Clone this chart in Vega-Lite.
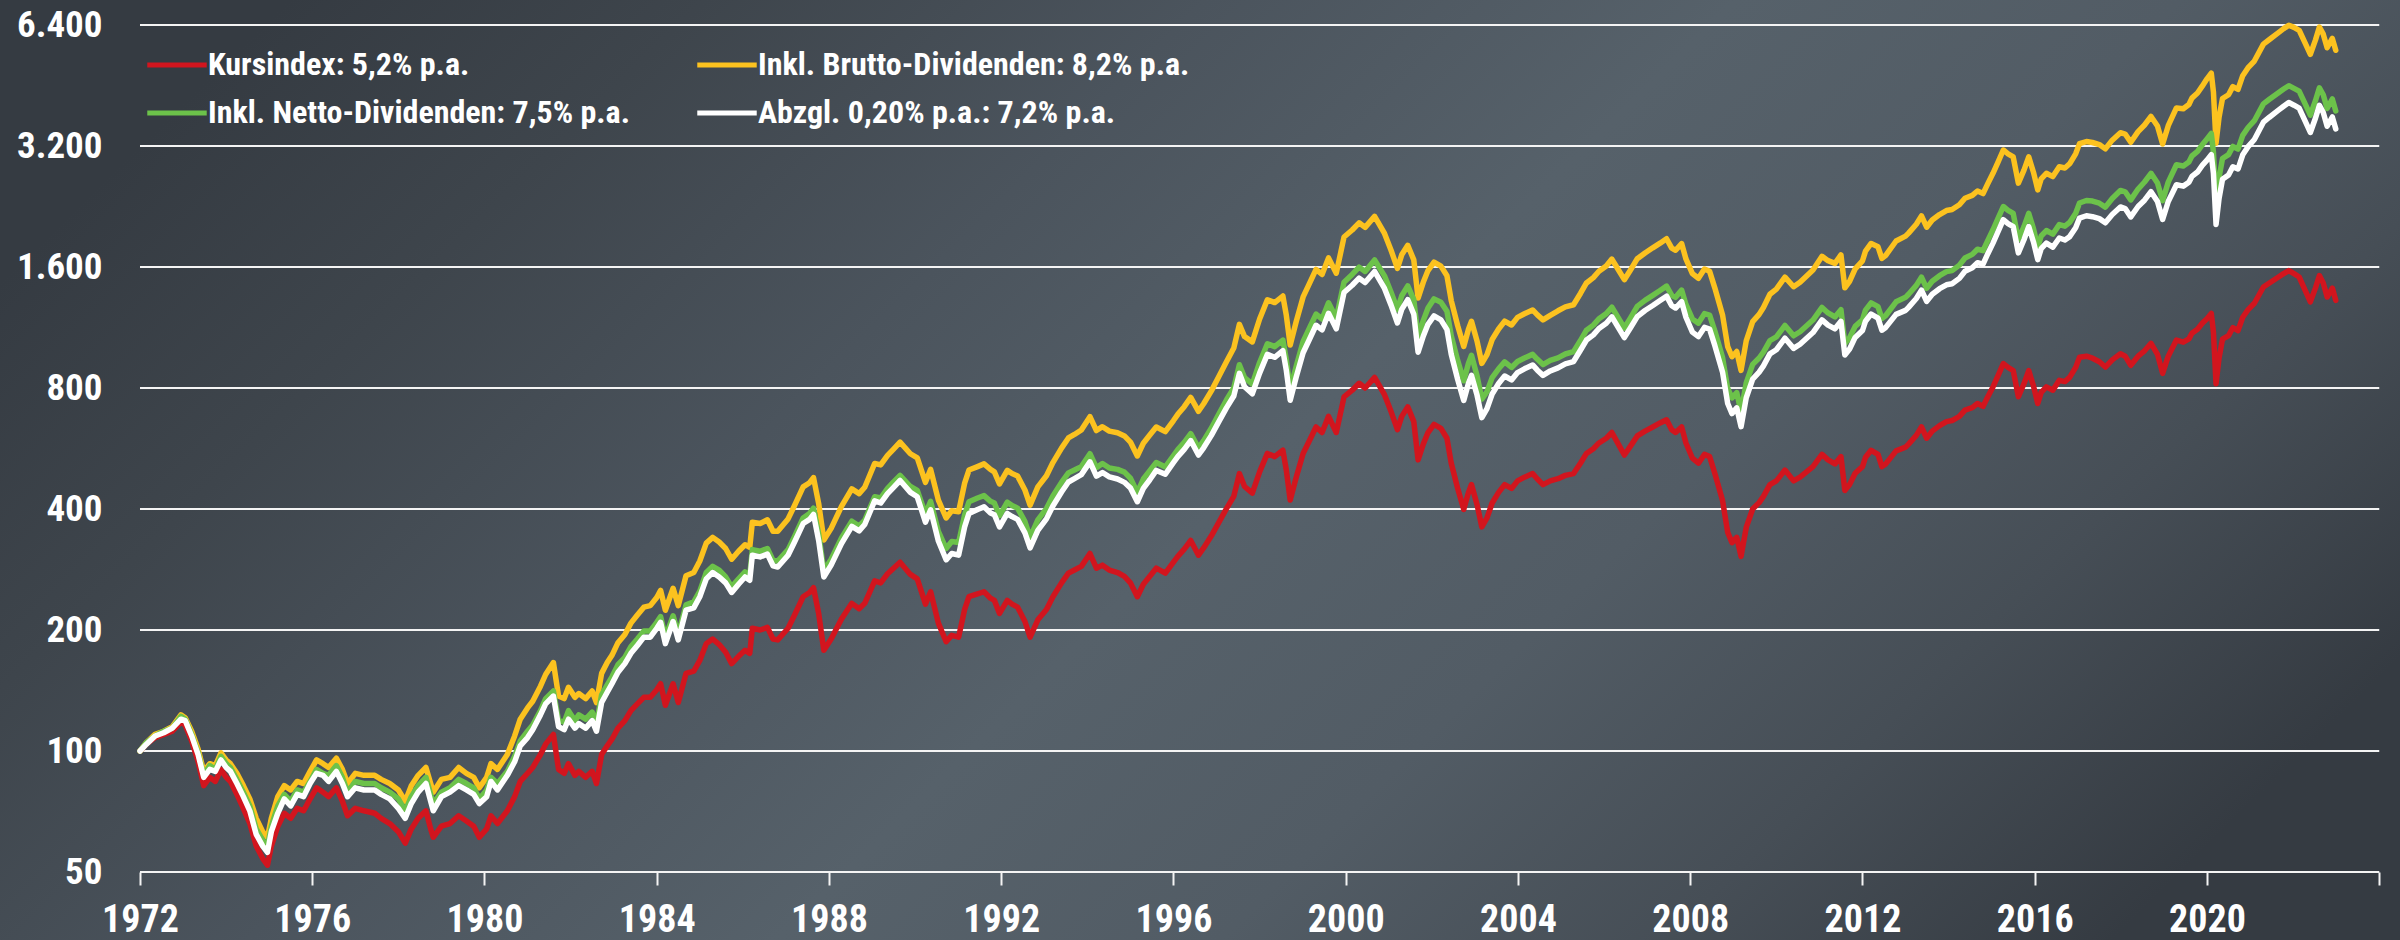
{
"$schema":"https://vega.github.io/schema/vega-lite/v6.json",
"width":2400,"height":940,
"autosize":{"type":"none"},
"padding":0,
"background":"#3f464d",
"view":{"stroke":null,"fill":{"gradient":"linear","x1":0,"y1":0.3,"x2":1,"y2":0.7,"stops":[{"offset":0,"color":"#353b42"},{"offset":0.15,"color":"#3e454c"},{"offset":0.33,"color":"#4b545d"},{"offset":0.52,"color":"#56616a"},{"offset":0.68,"color":"#525c65"},{"offset":0.84,"color":"#464e56"},{"offset":1,"color":"#353b42"}]}},
"config":{"font":"Roboto Condensed, Liberation Sans"},
"datasets":{
"grid":[{"g":50},{"g":100},{"g":200},{"g":400},{"g":800},{"g":1600},{"g":3200},{"g":6400}],
"series":[
{"t":1972.00,"k":100,"b":100,"n":100,"a":100},
{"t":1972.15,"k":104,"b":105,"n":105,"a":104},
{"t":1972.35,"k":108,"b":110,"n":109,"a":109},
{"t":1972.55,"k":110,"b":112,"n":112,"a":111},
{"t":1972.75,"k":112,"b":115,"n":114,"a":114},
{"t":1972.95,"k":118,"b":123,"n":122,"a":120},
{"t":1973.05,"k":116,"b":121,"n":120,"a":119},
{"t":1973.20,"k":106,"b":112,"n":110,"a":109},
{"t":1973.35,"k":94,"b":101,"n":99,"a":98},
{"t":1973.48,"k":82,"b":89,"n":87,"a":86},
{"t":1973.62,"k":86,"b":93,"n":92,"a":90},
{"t":1973.75,"k":84,"b":92,"n":90,"a":89},
{"t":1973.88,"k":90,"b":99,"n":97,"a":95},
{"t":1974.00,"k":86,"b":95,"n":93,"a":91},
{"t":1974.10,"k":84,"b":93,"n":91,"a":89},
{"t":1974.25,"k":78,"b":88,"n":85,"a":83},
{"t":1974.40,"k":72,"b":82,"n":79,"a":77},
{"t":1974.55,"k":66,"b":76,"n":73,"a":71},
{"t":1974.70,"k":58,"b":68,"n":64,"a":62},
{"t":1974.85,"k":54,"b":63,"n":60,"a":58},
{"t":1974.96,"k":52,"b":61,"n":58,"a":56},
{"t":1975.05,"k":58,"b":68,"n":65,"a":63},
{"t":1975.20,"k":65,"b":77,"n":73,"a":70},
{"t":1975.35,"k":70,"b":82,"n":78,"a":76},
{"t":1975.50,"k":68,"b":80,"n":75,"a":73},
{"t":1975.65,"k":72,"b":84,"n":80,"a":78},
{"t":1975.80,"k":71,"b":83,"n":79,"a":77},
{"t":1975.95,"k":76,"b":89,"n":84,"a":83},
{"t":1976.10,"k":81,"b":95,"n":90,"a":88},
{"t":1976.25,"k":79,"b":93,"n":88,"a":87},
{"t":1976.38,"k":77,"b":91,"n":87,"a":84},
{"t":1976.56,"k":81,"b":96,"n":92,"a":89},
{"t":1976.70,"k":75,"b":90,"n":86,"a":83},
{"t":1976.82,"k":69,"b":83,"n":79,"a":77},
{"t":1977.00,"k":72,"b":88,"n":84,"a":81},
{"t":1977.20,"k":71,"b":87,"n":83,"a":80},
{"t":1977.45,"k":70,"b":87,"n":83,"a":80},
{"t":1977.60,"k":68,"b":85,"n":81,"a":78},
{"t":1977.80,"k":66,"b":83,"n":79,"a":76},
{"t":1978.00,"k":63,"b":80,"n":76,"a":72},
{"t":1978.16,"k":59,"b":75,"n":71,"a":68},
{"t":1978.30,"k":64,"b":82,"n":77,"a":74},
{"t":1978.46,"k":68,"b":87,"n":82,"a":79},
{"t":1978.64,"k":71,"b":91,"n":86,"a":83},
{"t":1978.75,"k":64,"b":83,"n":78,"a":75},
{"t":1978.81,"k":61,"b":79,"n":74,"a":71},
{"t":1979.00,"k":65,"b":85,"n":79,"a":77},
{"t":1979.20,"k":66,"b":86,"n":81,"a":79},
{"t":1979.40,"k":69,"b":91,"n":85,"a":82},
{"t":1979.58,"k":67,"b":88,"n":83,"a":80},
{"t":1979.75,"k":65,"b":86,"n":81,"a":78},
{"t":1979.88,"k":61,"b":81,"n":76,"a":74},
{"t":1980.05,"k":64,"b":86,"n":80,"a":77},
{"t":1980.15,"k":69,"b":93,"n":86,"a":84},
{"t":1980.30,"k":66,"b":90,"n":83,"a":80},
{"t":1980.53,"k":71,"b":98,"n":89,"a":87},
{"t":1980.70,"k":77,"b":109,"n":97,"a":94},
{"t":1980.83,"k":84,"b":120,"n":106,"a":103},
{"t":1981.00,"k":88,"b":128,"n":112,"a":108},
{"t":1981.12,"k":91,"b":133,"n":116,"a":113},
{"t":1981.30,"k":98,"b":145,"n":126,"a":123},
{"t":1981.42,"k":104,"b":155,"n":135,"a":131},
{"t":1981.60,"k":110,"b":166,"n":141,"a":137},
{"t":1981.72,"k":90,"b":137,"n":119,"a":115},
{"t":1981.85,"k":88,"b":135,"n":118,"a":113},
{"t":1981.95,"k":93,"b":144,"n":126,"a":120},
{"t":1982.10,"k":87,"b":136,"n":119,"a":114},
{"t":1982.19,"k":89,"b":139,"n":123,"a":117},
{"t":1982.35,"k":86,"b":135,"n":120,"a":114},
{"t":1982.50,"k":89,"b":141,"n":125,"a":119},
{"t":1982.60,"k":83,"b":132,"n":117,"a":112},
{"t":1982.72,"k":98,"b":156,"n":138,"a":132},
{"t":1982.85,"k":103,"b":166,"n":146,"a":140},
{"t":1982.96,"k":107,"b":173,"n":153,"a":147},
{"t":1983.10,"k":114,"b":186,"n":164,"a":157},
{"t":1983.26,"k":119,"b":195,"n":171,"a":165},
{"t":1983.40,"k":126,"b":208,"n":182,"a":175},
{"t":1983.55,"k":131,"b":218,"n":190,"a":183},
{"t":1983.70,"k":136,"b":228,"n":199,"a":192},
{"t":1983.85,"k":136,"b":230,"n":199,"a":192},
{"t":1984.00,"k":142,"b":241,"n":209,"a":202},
{"t":1984.09,"k":147,"b":251,"n":216,"a":209},
{"t":1984.20,"k":130,"b":224,"n":192,"a":185},
{"t":1984.38,"k":147,"b":254,"n":217,"a":210},
{"t":1984.50,"k":132,"b":230,"n":195,"a":189},
{"t":1984.68,"k":156,"b":273,"n":231,"a":224},
{"t":1984.86,"k":158,"b":278,"n":235,"a":227},
{"t":1985.00,"k":168,"b":297,"n":250,"a":242},
{"t":1985.15,"k":185,"b":329,"n":278,"a":268},
{"t":1985.30,"k":190,"b":340,"n":288,"a":278},
{"t":1985.45,"k":184,"b":331,"n":282,"a":271},
{"t":1985.60,"k":176,"b":319,"n":271,"a":262},
{"t":1985.74,"k":165,"b":300,"n":256,"a":248},
{"t":1985.90,"k":172,"b":314,"n":268,"a":260},
{"t":1986.05,"k":178,"b":326,"n":279,"a":271},
{"t":1986.16,"k":175,"b":321,"n":275,"a":266},
{"t":1986.22,"k":202,"b":371,"n":317,"a":307},
{"t":1986.40,"k":200,"b":368,"n":314,"a":304},
{"t":1986.57,"k":203,"b":376,"n":319,"a":309},
{"t":1986.70,"k":190,"b":352,"n":298,"a":289},
{"t":1986.81,"k":189,"b":352,"n":297,"a":287},
{"t":1987.05,"k":202,"b":378,"n":317,"a":307},
{"t":1987.20,"k":218,"b":408,"n":342,"a":331},
{"t":1987.40,"k":242,"b":454,"n":380,"a":368},
{"t":1987.55,"k":248,"b":465,"n":390,"a":377},
{"t":1987.64,"k":255,"b":479,"n":402,"a":388},
{"t":1987.76,"k":220,"b":413,"n":347,"a":334},
{"t":1987.88,"k":178,"b":335,"n":281,"a":271},
{"t":1988.05,"k":190,"b":358,"n":300,"a":290},
{"t":1988.29,"k":213,"b":406,"n":339,"a":328},
{"t":1988.53,"k":233,"b":449,"n":373,"a":362},
{"t":1988.70,"k":226,"b":437,"n":363,"a":353},
{"t":1988.83,"k":233,"b":453,"n":375,"a":366},
{"t":1989.06,"k":265,"b":519,"n":429,"a":419},
{"t":1989.20,"k":262,"b":515,"n":426,"a":414},
{"t":1989.36,"k":276,"b":544,"n":450,"a":437},
{"t":1989.50,"k":285,"b":564,"n":467,"a":453},
{"t":1989.65,"k":295,"b":587,"n":485,"a":471},
{"t":1989.89,"k":275,"b":549,"n":455,"a":440},
{"t":1990.05,"k":268,"b":536,"n":445,"a":429},
{"t":1990.24,"k":232,"b":466,"n":389,"a":371},
{"t":1990.36,"k":249,"b":502,"n":418,"a":398},
{"t":1990.54,"k":208,"b":421,"n":352,"a":333},
{"t":1990.72,"k":187,"b":380,"n":319,"a":299},
{"t":1990.85,"k":194,"b":396,"n":332,"a":310},
{"t":1991.01,"k":192,"b":394,"n":330,"a":307},
{"t":1991.15,"k":225,"b":464,"n":387,"a":361},
{"t":1991.25,"k":242,"b":500,"n":417,"a":390},
{"t":1991.45,"k":246,"b":510,"n":426,"a":399},
{"t":1991.60,"k":249,"b":518,"n":432,"a":405},
{"t":1991.75,"k":240,"b":502,"n":418,"a":391},
{"t":1991.84,"k":237,"b":495,"n":414,"a":387},
{"t":1991.96,"k":220,"b":462,"n":385,"a":361},
{"t":1992.14,"k":237,"b":499,"n":416,"a":390},
{"t":1992.25,"k":232,"b":490,"n":408,"a":383},
{"t":1992.38,"k":228,"b":483,"n":402,"a":377},
{"t":1992.55,"k":210,"b":446,"n":372,"a":349},
{"t":1992.67,"k":192,"b":409,"n":340,"a":320},
{"t":1992.85,"k":212,"b":454,"n":376,"a":354},
{"t":1993.05,"k":225,"b":484,"n":401,"a":378},
{"t":1993.20,"k":242,"b":522,"n":431,"a":407},
{"t":1993.40,"k":262,"b":567,"n":466,"a":441},
{"t":1993.56,"k":277,"b":601,"n":492,"a":467},
{"t":1993.70,"k":282,"b":613,"n":500,"a":476},
{"t":1993.86,"k":288,"b":629,"n":510,"a":487},
{"t":1994.06,"k":310,"b":679,"n":549,"a":524},
{"t":1994.21,"k":285,"b":627,"n":507,"a":483},
{"t":1994.35,"k":290,"b":641,"n":519,"a":493},
{"t":1994.51,"k":282,"b":625,"n":506,"a":481},
{"t":1994.70,"k":278,"b":619,"n":502,"a":475},
{"t":1994.86,"k":272,"b":608,"n":494,"a":466},
{"t":1995.00,"k":262,"b":587,"n":477,"a":451},
{"t":1995.16,"k":242,"b":542,"n":440,"a":417},
{"t":1995.30,"k":260,"b":583,"n":475,"a":450},
{"t":1995.45,"k":272,"b":611,"n":498,"a":473},
{"t":1995.60,"k":285,"b":640,"n":522,"a":499},
{"t":1995.81,"k":277,"b":623,"n":509,"a":488},
{"t":1996.00,"k":295,"b":664,"n":543,"a":522},
{"t":1996.10,"k":305,"b":688,"n":562,"a":540},
{"t":1996.25,"k":318,"b":719,"n":586,"a":563},
{"t":1996.40,"k":334,"b":758,"n":616,"a":592},
{"t":1996.58,"k":307,"b":700,"n":567,"a":545},
{"t":1996.70,"k":320,"b":731,"n":592,"a":568},
{"t":1996.88,"k":343,"b":787,"n":636,"a":610},
{"t":1997.05,"k":370,"b":853,"n":688,"a":659},
{"t":1997.23,"k":401,"b":930,"n":747,"a":714},
{"t":1997.40,"k":430,"b":1006,"n":801,"a":764},
{"t":1997.53,"k":490,"b":1152,"n":914,"a":870},
{"t":1997.65,"k":455,"b":1074,"n":849,"a":806},
{"t":1997.83,"k":438,"b":1042,"n":818,"a":774},
{"t":1998.00,"k":495,"b":1188,"n":926,"a":871},
{"t":1998.18,"k":550,"b":1326,"n":1031,"a":970},
{"t":1998.35,"k":540,"b":1305,"n":1014,"a":954},
{"t":1998.54,"k":560,"b":1355,"n":1053,"a":991},
{"t":1998.62,"k":500,"b":1213,"n":942,"a":885},
{"t":1998.71,"k":421,"b":1023,"n":794,"a":746},
{"t":1998.85,"k":480,"b":1171,"n":907,"a":852},
{"t":1999.01,"k":550,"b":1348,"n":1045,"a":979},
{"t":1999.15,"k":590,"b":1450,"n":1123,"a":1053},
{"t":1999.31,"k":640,"b":1578,"n":1222,"a":1146},
{"t":1999.45,"k":620,"b":1533,"n":1187,"a":1116},
{"t":1999.60,"k":680,"b":1686,"n":1304,"a":1227},
{"t":1999.78,"k":620,"b":1544,"n":1194,"a":1123},
{"t":1999.96,"k":760,"b":1900,"n":1467,"a":1383},
{"t":2000.15,"k":790,"b":1978,"n":1533,"a":1441},
{"t":2000.31,"k":822,"b":2061,"n":1599,"a":1501},
{"t":2000.45,"k":800,"b":2008,"n":1560,"a":1464},
{"t":2000.67,"k":850,"b":2138,"n":1666,"a":1560},
{"t":2000.90,"k":770,"b":1939,"n":1521,"a":1415},
{"t":2001.05,"k":700,"b":1764,"n":1386,"a":1288},
{"t":2001.20,"k":630,"b":1588,"n":1254,"a":1161},
{"t":2001.30,"k":680,"b":1716,"n":1357,"a":1255},
{"t":2001.44,"k":718,"b":1812,"n":1436,"a":1327},
{"t":2001.58,"k":660,"b":1667,"n":1327,"a":1221},
{"t":2001.68,"k":530,"b":1339,"n":1071,"a":982},
{"t":2001.80,"k":580,"b":1466,"n":1177,"a":1076},
{"t":2001.91,"k":620,"b":1568,"n":1265,"a":1152},
{"t":2002.05,"k":650,"b":1645,"n":1333,"a":1209},
{"t":2002.21,"k":635,"b":1608,"n":1308,"a":1182},
{"t":2002.35,"k":600,"b":1522,"n":1242,"a":1118},
{"t":2002.45,"k":520,"b":1320,"n":1079,"a":970},
{"t":2002.60,"k":450,"b":1143,"n":936,"a":840},
{"t":2002.74,"k":399,"b":1015,"n":834,"a":745},
{"t":2002.85,"k":440,"b":1120,"n":922,"a":822},
{"t":2002.92,"k":460,"b":1172,"n":965,"a":860},
{"t":2003.05,"k":410,"b":1046,"n":857,"a":767},
{"t":2003.16,"k":361,"b":921,"n":751,"a":675},
{"t":2003.28,"k":380,"b":969,"n":783,"a":711},
{"t":2003.40,"k":414,"b":1056,"n":849,"a":773},
{"t":2003.55,"k":440,"b":1122,"n":893,"a":821},
{"t":2003.69,"k":460,"b":1173,"n":929,"a":857},
{"t":2003.85,"k":450,"b":1148,"n":900,"a":838},
{"t":2003.99,"k":470,"b":1199,"n":931,"a":874},
{"t":2004.15,"k":480,"b":1224,"n":950,"a":893},
{"t":2004.34,"k":490,"b":1251,"n":970,"a":913},
{"t":2004.45,"k":475,"b":1216,"n":943,"a":886},
{"t":2004.58,"k":460,"b":1182,"n":915,"a":860},
{"t":2004.75,"k":470,"b":1213,"n":937,"a":882},
{"t":2004.93,"k":476,"b":1245,"n":951,"a":898},
{"t":2005.10,"k":485,"b":1273,"n":972,"a":919},
{"t":2005.29,"k":490,"b":1289,"n":985,"a":931},
{"t":2005.45,"k":520,"b":1375,"n":1050,"a":993},
{"t":2005.59,"k":550,"b":1460,"n":1114,"a":1053},
{"t":2005.75,"k":565,"b":1506,"n":1147,"a":1085},
{"t":2005.88,"k":584,"b":1562,"n":1190,"a":1125},
{"t":2006.05,"k":600,"b":1610,"n":1225,"a":1159},
{"t":2006.18,"k":620,"b":1674,"n":1271,"a":1203},
{"t":2006.33,"k":580,"b":1575,"n":1195,"a":1131},
{"t":2006.47,"k":545,"b":1488,"n":1128,"a":1068},
{"t":2006.62,"k":575,"b":1578,"n":1199,"a":1133},
{"t":2006.77,"k":608,"b":1678,"n":1277,"a":1204},
{"t":2006.95,"k":625,"b":1734,"n":1322,"a":1247},
{"t":2007.13,"k":640,"b":1786,"n":1360,"a":1283},
{"t":2007.30,"k":655,"b":1834,"n":1398,"a":1320},
{"t":2007.45,"k":667,"b":1881,"n":1434,"a":1354},
{"t":2007.57,"k":630,"b":1783,"n":1361,"a":1282},
{"t":2007.66,"k":620,"b":1761,"n":1345,"a":1265},
{"t":2007.80,"k":640,"b":1830,"n":1402,"a":1312},
{"t":2007.90,"k":584,"b":1676,"n":1291,"a":1200},
{"t":2008.05,"k":535,"b":1541,"n":1188,"a":1102},
{"t":2008.19,"k":520,"b":1500,"n":1160,"a":1074},
{"t":2008.33,"k":547,"b":1581,"n":1225,"a":1132},
{"t":2008.45,"k":540,"b":1561,"n":1215,"a":1121},
{"t":2008.57,"k":491,"b":1420,"n":1110,"a":1021},
{"t":2008.75,"k":420,"b":1216,"n":953,"a":876},
{"t":2008.87,"k":350,"b":1014,"n":798,"a":732},
{"t":2008.97,"k":330,"b":957,"n":756,"a":691},
{"t":2009.08,"k":340,"b":986,"n":779,"a":714},
{"t":2009.18,"k":305,"b":885,"n":698,"a":641},
{"t":2009.30,"k":360,"b":1048,"n":824,"a":756},
{"t":2009.45,"k":400,"b":1170,"n":916,"a":842},
{"t":2009.60,"k":415,"b":1220,"n":950,"a":876},
{"t":2009.70,"k":430,"b":1269,"n":983,"a":908},
{"t":2009.85,"k":460,"b":1369,"n":1050,"a":973},
{"t":2010.00,"k":470,"b":1410,"n":1072,"a":996},
{"t":2010.20,"k":500,"b":1510,"n":1145,"a":1064},
{"t":2010.40,"k":470,"b":1429,"n":1079,"a":1004},
{"t":2010.55,"k":480,"b":1466,"n":1104,"a":1028},
{"t":2010.85,"k":510,"b":1573,"n":1181,"a":1099},
{"t":2011.06,"k":547,"b":1701,"n":1269,"a":1182},
{"t":2011.20,"k":530,"b":1659,"n":1230,"a":1147},
{"t":2011.36,"k":518,"b":1634,"n":1202,"a":1123},
{"t":2011.50,"k":540,"b":1715,"n":1253,"a":1172},
{"t":2011.59,"k":445,"b":1420,"n":1032,"a":967},
{"t":2011.70,"k":460,"b":1474,"n":1067,"a":1000},
{"t":2011.83,"k":491,"b":1583,"n":1139,"a":1069},
{"t":2012.00,"k":510,"b":1658,"n":1183,"a":1112},
{"t":2012.07,"k":538,"b":1752,"n":1250,"a":1173},
{"t":2012.20,"k":560,"b":1831,"n":1303,"a":1222},
{"t":2012.36,"k":547,"b":1797,"n":1275,"a":1194},
{"t":2012.45,"k":510,"b":1680,"n":1191,"a":1114},
{"t":2012.54,"k":518,"b":1711,"n":1212,"a":1132},
{"t":2012.78,"k":558,"b":1857,"n":1311,"a":1220},
{"t":2013.00,"k":570,"b":1910,"n":1345,"a":1248},
{"t":2013.07,"k":580,"b":1943,"n":1369,"a":1270},
{"t":2013.25,"k":610,"b":2044,"n":1440,"a":1336},
{"t":2013.37,"k":640,"b":2144,"n":1510,"a":1402},
{"t":2013.49,"k":600,"b":2010,"n":1416,"a":1314},
{"t":2013.62,"k":625,"b":2094,"n":1475,"a":1369},
{"t":2013.79,"k":645,"b":2161,"n":1522,"a":1413},
{"t":2013.95,"k":660,"b":2211,"n":1558,"a":1445},
{"t":2014.08,"k":664,"b":2224,"n":1567,"a":1454},
{"t":2014.25,"k":680,"b":2285,"n":1617,"a":1499},
{"t":2014.38,"k":705,"b":2372,"n":1685,"a":1562},
{"t":2014.55,"k":715,"b":2411,"n":1720,"a":1594},
{"t":2014.67,"k":732,"b":2473,"n":1771,"a":1640},
{"t":2014.80,"k":720,"b":2437,"n":1757,"a":1627},
{"t":2014.91,"k":761,"b":2580,"n":1864,"a":1727},
{"t":2015.03,"k":805,"b":2737,"n":1980,"a":1835},
{"t":2015.15,"k":860,"b":2924,"n":2116,"a":1961},
{"t":2015.27,"k":920,"b":3128,"n":2263,"a":2098},
{"t":2015.38,"k":900,"b":3060,"n":2214,"a":2052},
{"t":2015.50,"k":884,"b":3006,"n":2175,"a":2016},
{"t":2015.62,"k":761,"b":2587,"n":1872,"a":1735},
{"t":2015.75,"k":820,"b":2788,"n":2017,"a":1870},
{"t":2015.86,"k":884,"b":3006,"n":2175,"a":2016},
{"t":2015.97,"k":810,"b":2754,"n":1993,"a":1847},
{"t":2016.07,"k":732,"b":2489,"n":1793,"a":1669},
{"t":2016.15,"k":780,"b":2652,"n":1911,"a":1778},
{"t":2016.27,"k":805,"b":2737,"n":1972,"a":1835},
{"t":2016.42,"k":790,"b":2686,"n":1932,"a":1793},
{"t":2016.57,"k":836,"b":2842,"n":2040,"a":1889},
{"t":2016.70,"k":830,"b":2822,"n":2021,"a":1868},
{"t":2016.81,"k":850,"b":2890,"n":2066,"a":1904},
{"t":2016.95,"k":900,"b":3060,"n":2178,"a":2003},
{"t":2017.04,"k":954,"b":3244,"n":2309,"a":2118},
{"t":2017.20,"k":960,"b":3283,"n":2342,"a":2146},
{"t":2017.34,"k":949,"b":3265,"n":2335,"a":2135},
{"t":2017.50,"k":930,"b":3227,"n":2306,"a":2111},
{"t":2017.64,"k":902,"b":3148,"n":2255,"a":2061},
{"t":2017.80,"k":940,"b":3309,"n":2369,"a":2162},
{"t":2017.99,"k":973,"b":3454,"n":2481,"a":2257},
{"t":2018.10,"k":960,"b":3427,"n":2462,"a":2237},
{"t":2018.23,"k":911,"b":3270,"n":2350,"a":2132},
{"t":2018.40,"k":960,"b":3475,"n":2501,"a":2263},
{"t":2018.55,"k":990,"b":3609,"n":2604,"a":2346},
{"t":2018.70,"k":1033,"b":3791,"n":2737,"a":2464},
{"t":2018.85,"k":970,"b":3589,"n":2590,"a":2328},
{"t":2018.97,"k":870,"b":3236,"n":2340,"a":2101},
{"t":2019.10,"k":960,"b":3595,"n":2602,"a":2328},
{"t":2019.29,"k":1053,"b":3980,"n":2875,"a":2564},
{"t":2019.45,"k":1040,"b":3962,"n":2855,"a":2543},
{"t":2019.58,"k":1060,"b":4060,"n":2920,"a":2599},
{"t":2019.65,"k":1095,"b":4210,"n":3022,"a":2688},
{"t":2019.78,"k":1120,"b":4334,"n":3102,"a":2757},
{"t":2019.89,"k":1159,"b":4509,"n":3222,"a":2863},
{"t":2020.00,"k":1190,"b":4701,"n":3332,"a":2951},
{"t":2020.10,"k":1226,"b":4855,"n":3439,"a":3047},
{"t":2020.15,"k":1100,"b":4356,"n":3086,"a":2734},
{"t":2020.21,"k":820,"b":3251,"n":2304,"a":2042},
{"t":2020.28,"k":950,"b":3772,"n":2670,"a":2370},
{"t":2020.36,"k":1058,"b":4200,"n":2978,"a":2645},
{"t":2020.50,"k":1080,"b":4293,"n":3046,"a":2711},
{"t":2020.60,"k":1130,"b":4497,"n":3192,"a":2842},
{"t":2020.72,"k":1111,"b":4427,"n":3144,"a":2805},
{"t":2020.83,"k":1200,"b":4788,"n":3402,"a":3042},
{"t":2020.95,"k":1251,"b":5004,"n":3553,"a":3184},
{"t":2021.10,"k":1300,"b":5207,"n":3699,"a":3322},
{"t":2021.31,"k":1427,"b":5737,"n":4074,"a":3667},
{"t":2021.45,"k":1460,"b":5891,"n":4183,"a":3774},
{"t":2021.66,"k":1511,"b":6127,"n":4344,"a":3929},
{"t":2021.78,"k":1540,"b":6268,"n":4435,"a":4019},
{"t":2021.90,"k":1567,"b":6393,"n":4521,"a":4106},
{"t":2022.02,"k":1540,"b":6314,"n":4451,"a":4043},
{"t":2022.14,"k":1511,"b":6210,"n":4382,"a":3974},
{"t":2022.28,"k":1400,"b":5768,"n":4074,"a":3689},
{"t":2022.40,"k":1310,"b":5410,"n":3819,"a":3458},
{"t":2022.52,"k":1420,"b":5879,"n":4154,"a":3756},
{"t":2022.61,"k":1524,"b":6325,"n":4465,"a":4039},
{"t":2022.70,"k":1460,"b":6074,"n":4292,"a":3876},
{"t":2022.79,"k":1347,"b":5617,"n":3967,"a":3583},
{"t":2022.91,"k":1418,"b":5927,"n":4190,"a":3779},
{"t":2022.99,"k":1322,"b":5539,"n":3913,"a":3530}
]},
"layer":[
{"data":{"name":"grid"},
 "mark":{"type":"rule","color":"#f4f4f4","strokeWidth":2.2},
 "encoding":{
  "x":{"datum":1972,"type":"quantitative","scale":{"type":"linear","domain":[1968.749,2024.482],"nice":false,"zero":false},
   "axis":{"values":[1972,1976,1980,1984,1988,1992,1996,2000,2004,2008,2012,2016,2020,2024],"format":"d","labelExpr":"datum.value == 2024 ? '' : datum.label","offset":-68,"domain":false,"grid":false,"ticks":true,"tickSize":13,"tickWidth":2,"tickColor":"#f4f4f4","labelFont":"Roboto Condensed, Liberation Sans","labelFontSize":38,"labelFontWeight":"bold","labelColor":"#ffffff","labelPadding":54,"labelBaseline":"bottom","labelFlush":false,"labelOverlap":false,"title":null}},
  "x2":{"datum":2024},
  "y":{"field":"g","type":"quantitative","scale":{"type":"log","domain":[33.87,7386],"nice":false},
   "axis":{"values":[50,100,200,400,800,1600,3200,6400],"labelExpr":"replace(format(datum.value, ','), ',', '.')","offset":-140,"domain":false,"ticks":false,"grid":false,"labelFont":"Roboto Condensed, Liberation Sans","labelFontSize":37,"labelFontWeight":"bold","labelColor":"#ffffff","labelPadding":38,"labelBaseline":"middle","labelFlush":false,"labelOverlap":false,"title":null}}
 }},
{"data":{"name":"series"},
 "transform":[{"fold":["k","b","n","a"],"as":["s","v"]}],
 "mark":{"type":"line","strokeWidth":5.5,"strokeJoin":"round","strokeCap":"round"},
 "encoding":{
  "x":{"field":"t","type":"quantitative"},
  "y":{"field":"v","type":"quantitative"},
  "color":{"field":"s","type":"nominal","sort":["k","b","n","a"],
   "scale":{"domain":["k","b","n","a"],"range":["#d2151e","#fcc21f","#6cc24a","#ffffff"]},
   "legend":{"title":null,"orient":"none","legendX":161,"legendY":49,"direction":"horizontal","columns":2,"symbolType":"M-4,0H4","symbolSize":221,"symbolStrokeWidth":5,"labelExpr":"datum.label == 'k' ? 'Kursindex: 5,2% p.a.' : datum.label == 'b' ? 'Inkl. Brutto-Dividenden: 8,2% p.a.' : datum.label == 'n' ? 'Inkl. Netto-Dividenden: 7,5% p.a.' : 'Abzgl. 0,20% p.a.: 7,2% p.a.'","labelFont":"Roboto Condensed, Liberation Sans","labelFontSize":32,"labelFontWeight":"bold","labelColor":"#ffffff","labelOffset":15,"labelLimit":0,"rowPadding":16,"columnPadding":57,"padding":0}}
 }}
]
}
